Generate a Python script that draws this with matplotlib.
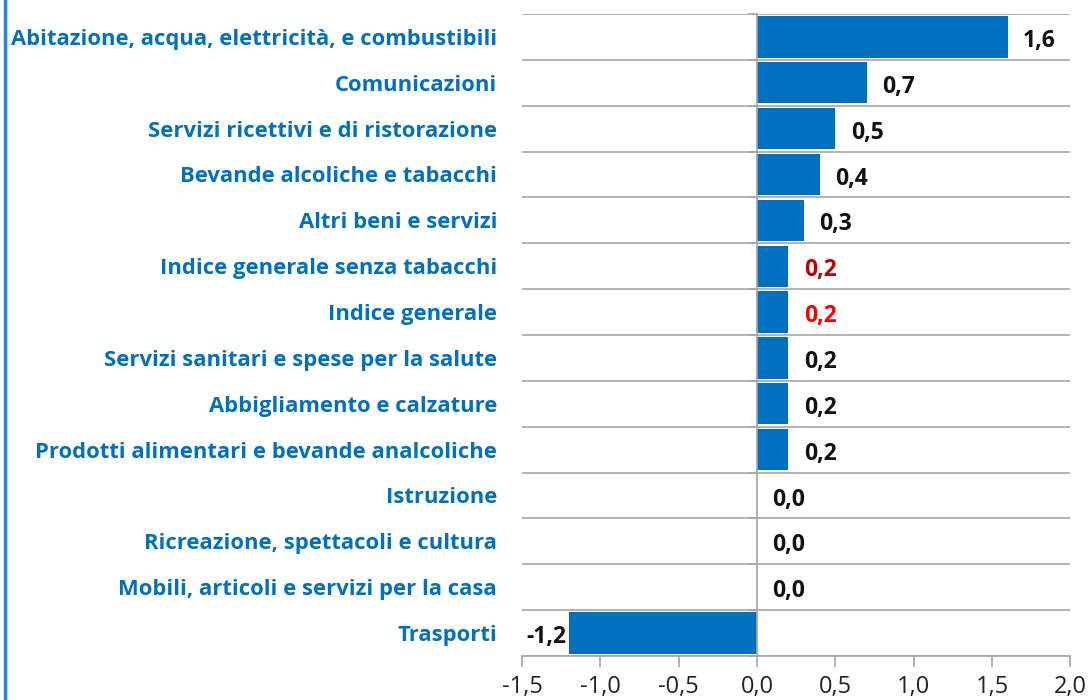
import matplotlib
matplotlib.use("Agg")
import matplotlib.pyplot as plt
from matplotlib.lines import Line2D

categories = [
    "Abitazione, acqua, elettricità, e combustibili",
    "Comunicazioni",
    "Servizi ricettivi e di ristorazione",
    "Bevande alcoliche e tabacchi",
    "Altri beni e servizi",
    "Indice generale senza tabacchi",
    "Indice generale",
    "Servizi sanitari e spese per la salute",
    "Abbigliamento e calzature",
    "Prodotti alimentari e bevande analcoliche",
    "Istruzione",
    "Ricreazione, spettacoli e cultura",
    "Mobili, articoli e servizi per la casa",
    "Trasporti",
]
values = [1.6, 0.7, 0.5, 0.4, 0.3, 0.2, 0.2, 0.2, 0.2, 0.2, 0.0, 0.0, 0.0, -1.2]
label_colors = ["#111111"] * 5 + ["#C00000", "#FF0000"] + ["#111111"] * 7
xticks = [-1.5, -1.0, -0.5, 0.0, 0.5, 1.0, 1.5, 2.0]

plt.rcParams["font.family"] = ["Open Sans", "DejaVu Sans"]

fig = plt.figure(figsize=(10.9, 7.0), dpi=100)
ax = fig.add_axes([0.479, 0.063, 0.503, 0.917])

n = len(categories)
y = list(range(n))
ax.barh(y, values, height=0.9, color="#0070C0", zorder=2)
ax.set_ylim(n - 0.5, -0.5)
ax.set_xlim(-1.5, 2.0)

# gridlines at category boundaries
for b in range(n + 1):
    ax.axhline(b - 0.5, color="#A6A6A6", lw=1.2, zorder=1)
ax.axvline(0, color="#A6A6A6", lw=1.2, zorder=3)

# small ticks left of zero line at boundaries
for b in range(n + 1):
    ax.plot([-0.05, 0], [b - 0.5, b - 0.5], color="#A6A6A6", lw=1.2, zorder=3, clip_on=False)

for sp in ["top", "right", "left"]:
    ax.spines[sp].set_visible(False)
ax.spines["bottom"].set_color("#A6A6A6")
ax.spines["bottom"].set_linewidth(1.2)

ax.set_xticks(xticks)
ax.set_xticklabels([f"{t:.1f}".replace(".", ",") for t in xticks], fontsize=17, color="#222222")
ax.tick_params(axis="x", length=8, width=1.2, color="#A6A6A6", pad=6)
ax.set_yticks(y)
ax.set_yticklabels(categories, fontsize=15.8, fontweight="bold", color="#0070C0")
ax.tick_params(axis="y", length=0, pad=18)

for i, (v, c) in enumerate(zip(values, label_colors)):
    txt = f"{v:.1f}".replace(".", ",")
    if v < 0:
        ax.annotate(txt, (v, i), xytext=(-2, -3), textcoords="offset points",
                    ha="right", va="center", fontsize=16.5, fontweight="bold", color=c)
    else:
        ax.annotate(txt, (v, i), xytext=(11, -3), textcoords="offset points",
                    ha="left", va="center", fontsize=16.5, fontweight="bold", color=c)

fig.add_artist(Line2D([0.005, 0.005], [0, 1], color="#1E88E5", lw=2.5))

fig.savefig("out.png", dpi=100)
